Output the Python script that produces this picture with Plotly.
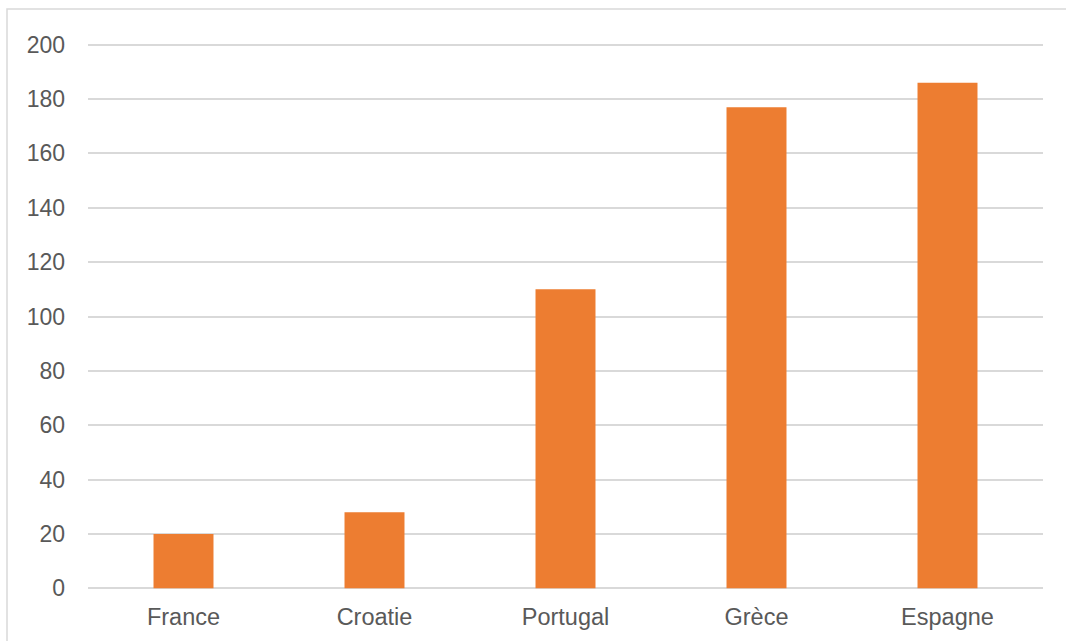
import plotly.graph_objects as go

categories = ["France", "Croatie", "Portugal", "Grèce", "Espagne"]
values = [20, 28, 110, 177, 186]
y_ticks = [0, 20, 40, 60, 80, 100, 120, 140, 160, 180, 200]

fig = go.Figure(
    go.Bar(
        x=categories,
        y=values,
        marker=dict(color="#ED7D31", line=dict(width=0)),
        hoverinfo="x+y",
    )
)

W, H = 1066, 641
L, R, T, B = 88, 23, 43, 51
pw, ph = W - L - R, H - T - B

fig.update_layout(
    width=W,
    height=H,
    margin=dict(l=L, r=R, t=T, b=B, pad=0, autoexpand=False),
    paper_bgcolor="white",
    plot_bgcolor="white",
    bargap=0.686,
    showlegend=False,
    font=dict(family="Liberation Sans, Arial, sans-serif", size=23, color="#595959"),
    xaxis=dict(
        showgrid=False,
        showline=False,
        ticks="",
        ticklabelstandoff=10,
        tickfont=dict(size=23.5, color="#595959"),
        automargin=False,
        fixedrange=True,
    ),
    yaxis=dict(
        range=[-0.6, 200.6],
        tickvals=y_ticks,
        showgrid=True,
        gridcolor="#D9D9D9",
        gridwidth=1.5,
        zeroline=False,
        showline=False,
        ticks="",
        ticklabelstandoff=22,
        tickfont=dict(size=23, color="#595959"),
        automargin=False,
        fixedrange=True,
    ),
    shapes=[
        dict(
            type="rect",
            xref="paper",
            yref="paper",
            x0=(7 - L) / pw,
            x1=(1085 - L) / pw,
            y0=(H - B - 670) / ph,
            y1=(H - B - 9) / ph,
            line=dict(color="#D9D9D9", width=1.5),
            fillcolor="rgba(0,0,0,0)",
            layer="below",
        )
    ],
)

fig.write_html(
    "out.html",
    config={"displayModeBar": False},
    post_script="document.body.style.margin='0';document.body.style.padding='0';document.body.style.overflow='hidden';",
)
